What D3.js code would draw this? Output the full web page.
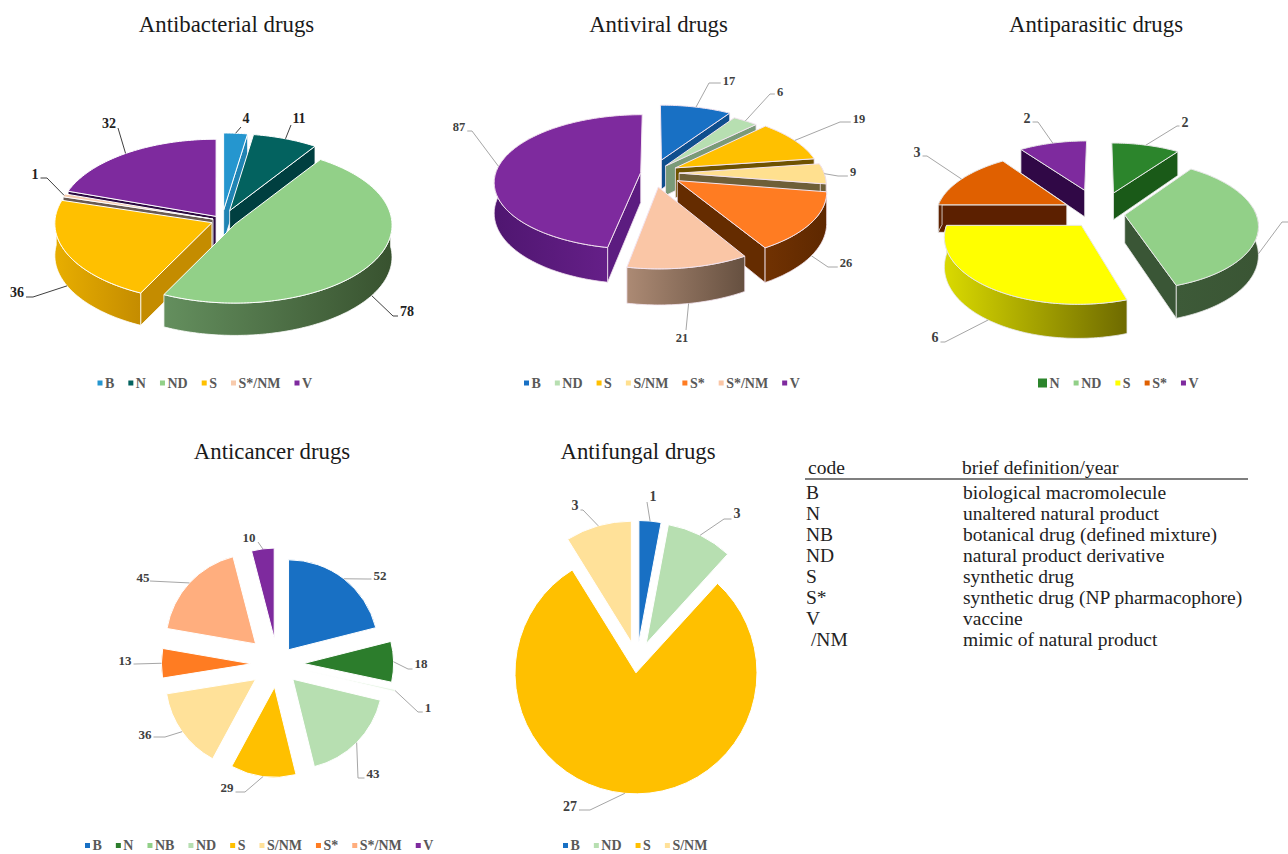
<!DOCTYPE html>
<html>
<head>
<meta charset="utf-8">
<script src="https://cdn.jsdelivr.net/npm/d3@7"></script>
<style>
  html, body { margin: 0; padding: 0; background: #fff; overflow: hidden; }
  text { font-family: "Liberation Serif", "Times New Roman", serif; }
</style>
</head>
<body>
<svg id="chart" width="1288" height="854"></svg>
<script>
// Antibacterial drugs
const abCodes  = ["B", "N", "ND", "S", "S*/NM", "V"];
const abValues = [4, 11, 78, 36, 1, 32];
// Antiviral drugs
const avCodes  = ["B", "ND", "S", "S/NM", "S*", "S*/NM", "V"];
const avValues = [17, 6, 19, 9, 26, 21, 87];
// Antiparasitic drugs (the ND label falls past the page edge and is not printed)
const apCodes  = ["N", "ND", "S", "S*", "V"];
const apValues = [2, 7, 6, 3, 2];
const apPrinted = [true, false, true, true, true];
// Anticancer drugs
const acCodes  = ["B", "N", "NB", "ND", "S", "S/NM", "S*", "S*/NM", "V"];
const acValues = [52, 18, 1, 43, 29, 36, 13, 45, 10];
// Antifungal drugs
const afCodes  = ["B", "ND", "S", "S/NM"];
const afValues = [1, 3, 27, 3];

// Definition table
const tableHeader = ["code", "brief definition/year"];
const tableCodes = ["B", "N", "NB", "ND", "S", "S*", "V", " /NM"];
const tableDefinitions = [
  "biological macromolecule", "unaltered natural product",
  "botanical drug (defined mixture)", "natural product derivative",
  "synthetic drug", "synthetic drug (NP pharmacophore)",
  "vaccine", "mimic of natural product"
];

// Slice colours per chart
const abColors = ["#2596cf", "#03625f", "#92d088", "#ffc000", "#f8cbad", "#7e2a9e"];
const avColors = ["#1870c4", "#b7dfb1", "#ffc000", "#ffe08f", "#ff7c22", "#fac6a6", "#7e2a9e"];
const apColors = ["#2c852c", "#92d088", "#ffff00", "#e06000", "#7e2a9e"];
const acColors = ["#1870c4", "#2c7d2c", "#92d088", "#b7dfb1", "#ffc000", "#ffe199", "#ff7c22", "#ffae7e", "#7e2a9e"];
const afColors = ["#1870c4", "#b7dfb1", "#ffc000", "#ffe199"];

// Fill opacity of the anticancer slices; the hairline NB slice barely shows
const acOpacity = [1, 1, 0.2, 1, 1, 1, 1, 1, 1];

// Side walls of the 3D pies: [left shade, right shade] of the rim, and the flat cut faces
const abWalls = [["#1a6f98","#1a6f98"],["#004a48","#004a48"],["#648f5e","#38522f"],["#e8ae00","#c48c00"],["#b89580","#b89580"],["#4d1766","#3d1052"]];
const abCuts  = ["#1f84b4", "#003f40", "#46663f", "#c48c00", "#6a5a52", "#2d0a42"];
const avWalls = [["#125596","#125596"],["#7f9d7a","#7f9d7a"],["#7a5c00","#7a5c00"],["#6e5f38","#6e5f38"],["#713202","#5e2800"],["#ac8a74","#665040"],["#4f1670","#651f88"]];
const avCuts  = ["#0f4f8e", "#7a9a78", "#6e5200", "#6e5f38", "#652c00", "#8a6e5c", "#5c1c80"];
const apWalls = [["#1a5a18","#1a5a18"],["#3d5a38","#3a5534"],["#dada00","#6e6a00"],["#5f2200","#5f2200"],["#33094a","#33094a"]];
const apCuts  = ["#1a5a18", "#3a5636", "#8a8700", "#5c2000", "#300846"];

// How far each slice is pulled from the pie centre, as a fraction of its radius
const abExplode = [0.135, 0.135, 0.095, 0.07, 0.06, 0.065];
const avExplode = [0.21, 0.14, 0.175, 0.18, 0.2, 0.21, 0.085];
const apExplode = [0.35, 0.19, 0.235, 0.29, 0.40];
const acExplode = [0.20, 0.29, 0.34, 0.24, 0.26, 0.30, 0.29, 0.33, 0.29];
const afExplode = [0.17, 0.17, 0.09, 0.17];

// Label centres and leader elbows
const abLabels = [[246,118,241,127],[299,118,291,125],[407,311,393,316],[17,292,33,297],[35,174,47,178],[109,123,118,128]];
const avLabels = [[729,81,709,83],[780,92,770,94],[859,119,840,122],[853,172,838,176],[846,263,828,267],[682,338,686,330],[459,127,472,131]];
const apLabels = [[1185,122,1177,126],[1296,220,1282,222],[935,337,945,342],[917,152,927,156],[1027,118,1038,122]];
const acLabels = [[380,575,367,579],[421,663,408,669],[428,707,418,712],[373,773,358,778],[227,787,245,792],[145,734,165,737],[125,660,135,664],[143,577,150,581],[249,537,258,542]];
const afLabels = [[653,496,647,502],[737,513,724,519],[570,806,590,810],[575,505,583,510]];

// Legend swatch sizes of the antiparasitic key, whose first swatch is drawn larger
const apSwatches = [9, 5, 5, 5, 5];

const svg = d3.select("#chart");
const defs = svg.append("defs");
const pie = d3.pie().sort(null).value(d => d.value);
let gradientId = 0;

function rows(codes, values, colors, explode, labels) {
  return codes.map((code, i) => ({
    code, value: values[i], color: colors[i], explode: explode[i], label: labels[i], printed: true, opacity: 1
  }));
}

// Leader line from the slice rim through an elbow to the side of the number
function drawLeader(g, start, lab, color, textSize, text) {
  const [lx, ly, ex, ey] = lab;
  const half = String(text).length * textSize * 0.25 + 2;
  const pts = [start, [ex, ey]];
  if (Math.abs(lx - ex) > half + 1) pts.push([lx > ex ? lx - half : lx + half, ey]);
  g.append("path").attr("d", d3.line()(pts))
    .attr("fill", "none").attr("stroke", color).attr("stroke-width", 1);
}

function drawValue(g, d, color, size, weight) {
  if (!d.printed) return;
  g.append("text").attr("x", d.label[0]).attr("y", d.label[1]).attr("dy", "0.35em")
    .attr("text-anchor", "middle").attr("font-size", size).attr("font-weight", weight)
    .attr("fill", color).text(d.value);
}

function drawLegend(codes, colors, startX, y, swatches) {
  const g = svg.append("g");
  let x = startX;
  codes.forEach((code, i) => {
    const size = swatches ? swatches[i] : 5;
    g.append("rect").attr("x", x).attr("y", y - size / 2).attr("width", size).attr("height", size)
      .attr("fill", colors[i]);
    const t = g.append("text").attr("x", x + size + 2.5).attr("y", y).attr("dy", "0.35em")
      .attr("font-size", 14).attr("font-weight", "bold").attr("fill", "#595959").text(code);
    x += size + 2.5 + t.node().getComputedTextLength() + 14;
  });
  return g;
}

function drawTitle(text, x, y) {
  svg.append("text").attr("x", x).attr("y", y).attr("text-anchor", "middle")
    .attr("font-size", 22.8).attr("fill", "#1a1a1a").text(text);
}

// Extruded pie seen from above, with a mild perspective toward the viewer
function drawPie3D(opts) {
  const { data, walls, cuts, cx, cy, rx, ry, depth, k, edge, leaderColor, labelColor, labelSize } = opts;
  const g = svg.append("g");
  const project = (u, v, z) => {
    const s = 1 / (1 + k * v);
    return [cx + rx * u * s, cy - ry * v * s + depth * z * s];
  };
  const slices = pie(data).map((a, i) => {
    const mid = (a.startAngle + a.endAngle) / 2;
    const ou = a.data.explode * Math.sin(mid), ov = a.data.explode * Math.cos(mid);
    return { ...a, index: i, mid, ou, ov,
      rim: (ang, z) => project(ou + Math.sin(ang), ov + Math.cos(ang), z),
      apex: z => project(ou, ov, z) };
  });
  const line = d3.line();
  const sweep = (a0, a1) => {
    const n = Math.max(2, Math.ceil((a1 - a0) / 0.02));
    return d3.range(n + 1).map(j => a0 + (a1 - a0) * j / n);
  };
  slices.slice().sort((p, q) => Math.cos(q.mid) - Math.cos(p.mid)).forEach(s => {
    const i = s.index, face = g.append("g");
    // Flat cut faces, only those turned toward the viewer
    [[s.startAngle, Math.sin(s.startAngle) < -0.001], [s.endAngle, Math.sin(s.endAngle) > 0.001]]
      .filter(c => c[1]).forEach(([ang]) => {
        face.append("path")
          .attr("d", line([s.apex(0), s.rim(ang, 0), s.rim(ang, 1), s.apex(1)]) + "Z")
          .attr("fill", cuts[i]).attr("stroke", edge).attr("stroke-width", 0.8);
      });
    // Curved outer wall on the near half
    const lo = Math.max(s.startAngle, Math.PI / 2 - 0.12), hi = Math.min(s.endAngle, 3 * Math.PI / 2 + 0.12);
    if (hi > lo) {
      const angs = sweep(lo, hi);
      const topEdge = angs.map(a => s.rim(a, 0)), botEdge = angs.map(a => s.rim(a, 1)).reverse();
      const id = "wall" + (gradientId++);
      const xs = d3.extent(topEdge, p => p[0]);
      const grad = defs.append("linearGradient").attr("id", id).attr("gradientUnits", "userSpaceOnUse")
        .attr("x1", xs[0]).attr("x2", xs[1]).attr("y1", 0).attr("y2", 0);
      grad.append("stop").attr("offset", 0).attr("stop-color", walls[i][0]);
      grad.append("stop").attr("offset", 1).attr("stop-color", walls[i][1]);
      face.append("path").attr("d", line(topEdge.concat(botEdge)) + "Z")
        .attr("fill", `url(#${id})`).attr("stroke", edge).attr("stroke-width", 0.8);
    }
    // Top of the slice
    const top = [s.apex(0)].concat(sweep(s.startAngle, s.endAngle).map(a => s.rim(a, 0)));
    face.append("path").attr("d", line(top) + "Z")
      .attr("fill", s.data.color).attr("stroke", edge).attr("stroke-width", 1);
  });
  slices.forEach(s => {
    const near = Math.cos(s.mid) < -0.1;
    drawLeader(g, s.rim(s.mid, near ? 1 : 0), s.data.label, leaderColor, labelSize, s.data.printed ? s.data.value : "");
    drawValue(g, s.data, labelColor, labelSize, "bold");
  });
}

// Flat exploded pie
function drawPie2D(opts) {
  const { data, cx, cy, r, leaderColor, labelColor, labelSize } = opts;
  const g = svg.append("g");
  const arc = d3.arc().innerRadius(0).outerRadius(r);
  pie(data).forEach(a => {
    const mid = (a.startAngle + a.endAngle) / 2;
    const e = a.data.explode * r;
    const ox = cx + e * Math.sin(mid), oy = cy - e * Math.cos(mid);
    g.append("path").attr("d", arc(a)).attr("transform", `translate(${ox},${oy})`)
      .attr("fill", a.data.color).attr("fill-opacity", a.data.opacity)
      .attr("stroke", "#fff").attr("stroke-width", 1);
    const rim = [ox + r * Math.sin(mid), oy - r * Math.cos(mid)];
    drawLeader(g, rim, a.data.label, leaderColor, labelSize, a.data.value);
    drawValue(g, a.data, labelColor, labelSize, "bold");
  });
}

const apData = rows(apCodes, apValues, apColors, apExplode, apLabels);
apData.forEach((d, i) => { d.printed = apPrinted[i]; });
const acData = rows(acCodes, acValues, acColors, acExplode, acLabels);
acData.forEach((d, i) => { d.opacity = acOpacity[i]; });

drawTitle("Antibacterial drugs", 226.5, 32);
drawPie3D({ data: rows(abCodes, abValues, abColors, abExplode, abLabels), walls: abWalls, cuts: abCuts,
  cx: 222, cy: 220.5, rx: 157, ry: 78, depth: 32, k: 0.01, edge: "#fff",
  leaderColor: "#404040", labelColor: "#222", labelSize: 14 });
drawLegend(abCodes, abColors, 97.5, 383);

drawTitle("Antiviral drugs", 658.5, 32);
drawPie3D({ data: rows(avCodes, avValues, avColors, avExplode, avLabels), walls: avWalls, cuts: avCuts,
  cx: 653, cy: 173, rx: 145, ry: 66, depth: 30, k: 0.14, edge: "#f3e4f0",
  leaderColor: "#a6a6a6", labelColor: "#404040", labelSize: 12.5 });
drawLegend(avCodes, avColors, 524, 383);

drawTitle("Antiparasitic drugs", 1096, 32);
drawPie3D({ data: apData, walls: apWalls, cuts: apCuts,
  cx: 1100, cy: 213, rx: 131, ry: 63, depth: 28, k: 0.15, edge: "#e8e8e8",
  leaderColor: "#a6a6a6", labelColor: "#404040", labelSize: 14 });
drawLegend(apCodes, apColors, 1038, 383, apSwatches);

drawTitle("Anticancer drugs", 272, 459);
drawPie2D({ data: acData, cx: 277.5, cy: 664, r: 90,
  leaderColor: "#a6a6a6", labelColor: "#404040", labelSize: 13 });
drawLegend(acCodes, acColors, 85, 845.5);

drawTitle("Antifungal drugs", 638, 459);
drawPie2D({ data: rows(afCodes, afValues, afColors, afExplode, afLabels), cx: 637, cy: 662, r: 121,
  leaderColor: "#a6a6a6", labelColor: "#404040", labelSize: 14 });
drawLegend(afCodes, afColors, 563, 845.5);

// Definition table
const table = svg.append("g").attr("font-size", 19.5).attr("fill", "#222");
const rowY = d3.scaleLinear().domain([0, tableCodes.length - 1]).range([498.5, 645.5]);
table.append("text").attr("x", 808).attr("y", 474).text(tableHeader[0]);
table.append("text").attr("x", 962).attr("y", 474).text(tableHeader[1]);
table.append("line").attr("x1", 805).attr("x2", 1248).attr("y1", 479).attr("y2", 479)
  .attr("stroke", "#555").attr("stroke-width", 1.4);
tableCodes.forEach((c, i) => {
  table.append("text").attr("x", 806).attr("y", rowY(i)).style("white-space", "pre").text(c);
  table.append("text").attr("x", 963).attr("y", rowY(i)).text(tableDefinitions[i]);
});
</script>
</body>
</html>
